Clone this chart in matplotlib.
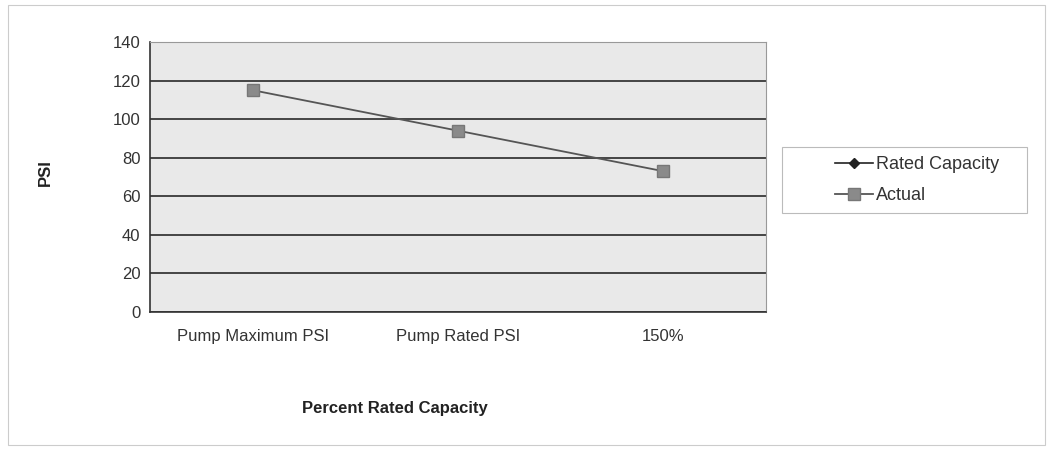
import numpy as np
import matplotlib
matplotlib.use('Agg')
import matplotlib.pyplot as plt
from matplotlib.patches import Rectangle

plt.rcParams['font.family'] = ['Liberation Sans', 'DejaVu Sans']

categories = ['Pump Maximum PSI', 'Pump Rated PSI', '150%']
rated_capacity = [np.nan, np.nan, np.nan]
actual = [115, 94, 73]
y_ticks = [0, 20, 40, 60, 80, 100, 120, 140]

fig = plt.figure(figsize=(10.53, 4.55), dpi=100)
fig.patch.set_facecolor('white')
ax = fig.add_axes([0.1425, 0.3143, 0.585, 0.5934])
ax.set_facecolor('#e9e9e9')

x = np.arange(len(categories))
ax.plot(x, rated_capacity, color='#222222', marker='D', markersize=5, lw=1.2,
        label='Rated Capacity')
ax.plot(x, actual, color='#555555', marker='s', markersize=9,
        markerfacecolor='#8a8a8a', markeredgecolor='#777777', lw=1.3,
        label='Actual')

ax.set_xlim(-0.5, 2.5)
ax.set_ylim(0, 140)
ax.set_yticks(y_ticks)
ax.set_xticks(x)
ax.set_xticklabels(categories)
ax.yaxis.grid(True, color='#2a2a2a', lw=1.2)
ax.set_axisbelow(True)
ax.tick_params(axis='both', labelsize=12, colors='#333333', length=0)
ax.tick_params(axis='x', pad=12)
ax.tick_params(axis='y', pad=7)
for side in ['top', 'right']:
    ax.spines[side].set_color('#999999')
    ax.spines[side].set_linewidth(0.8)
for side in ['left', 'bottom']:
    ax.spines[side].set_color('#333333')
    ax.spines[side].set_linewidth(1.2)

fig.text(0.043, 0.62, 'PSI', rotation=90, fontsize=12, fontweight='bold',
         ha='center', va='center', color='#222222')
fig.text(0.375, 0.103, 'Percent Rated Capacity', fontsize=12, fontweight='bold',
         ha='center', va='center', color='#222222')

# legend box drawn by hand, entries sit well to the right inside it
fig.patches.append(Rectangle((0.7426, 0.5319), 0.2327, 0.145, transform=fig.transFigure,
                             fill=False, edgecolor='#bbbbbb', lw=0.8))
leg = ax.legend(loc='center left', bbox_to_anchor=(0.793, 0.604), bbox_transform=fig.transFigure,
                frameon=False, fontsize=13, borderpad=0, labelspacing=0.8,
                handlelength=2.1, handletextpad=0.15, borderaxespad=0)
for t in leg.get_texts():
    t.set_color('#333333')

fig.patches.append(Rectangle((0.008, 0.022), 0.984, 0.966, transform=fig.transFigure,
                             fill=False, edgecolor='#cccccc', lw=0.8))

fig.savefig('out.png', dpi=100)
